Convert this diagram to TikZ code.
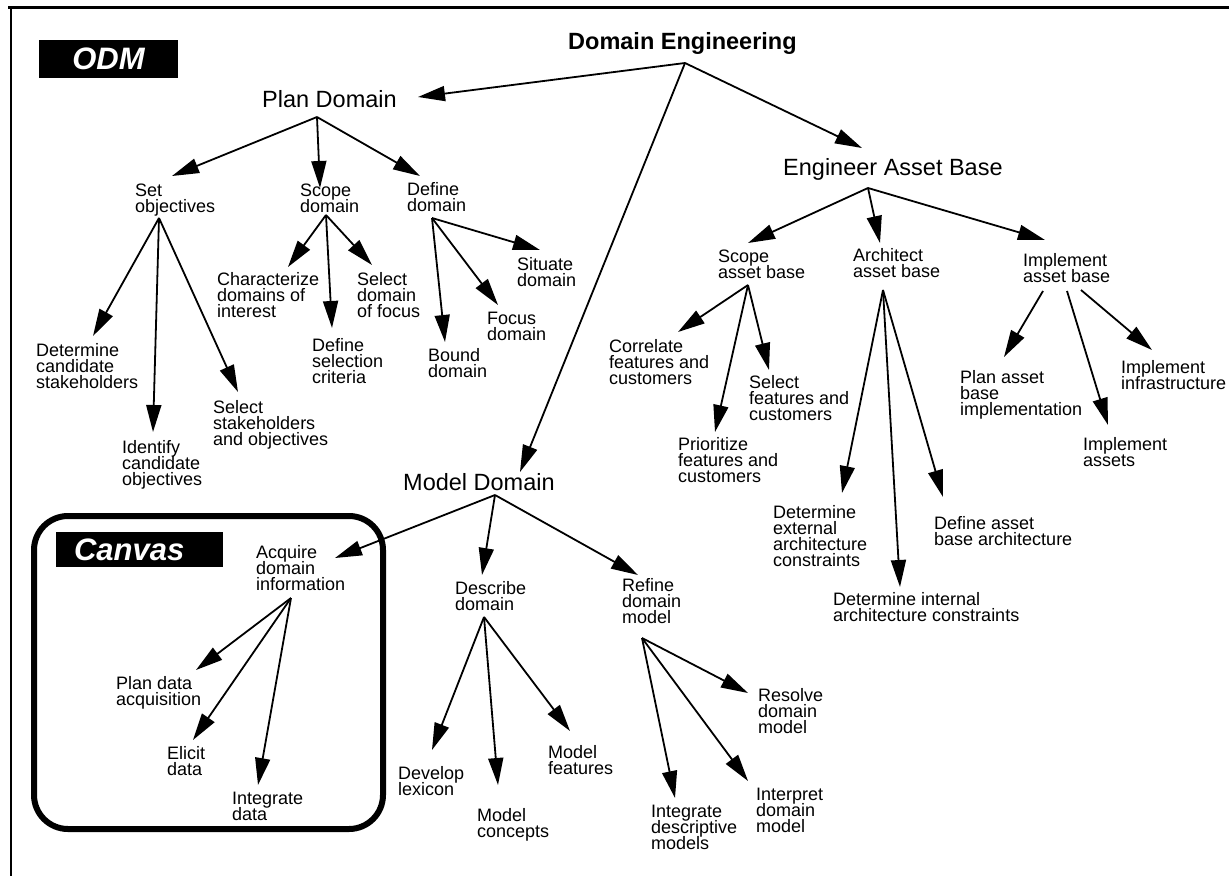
\documentclass[tikz,border=0pt]{standalone}
\usepackage{fontspec}
\setmainfont{Liberation Sans}
\usetikzlibrary{arrows.meta}
\begin{document}
\begin{tikzpicture}[x=1pt,y=-1pt,
  lbl/.style={font={\fontsize{18}{16.2}\selectfont\lineskiplimit=-30pt}, align=left, anchor=north west, inner sep=0pt},
  big/.style={font=\fontsize{23.5}{26}\selectfont, anchor=base west, inner sep=0pt},
  arr/.style={line width=1.8pt, -{Triangle[length=27pt,width=15pt]}},
  tag/.style={fill=black, text=white, inner sep=0pt, font=\fontsize{31}{34}\selectfont\bfseries\itshape},
]
\useasboundingbox (0,0) rectangle (1229,876);
\fill[white] (0,0) rectangle (1229,876);
% frame
\draw[line width=3pt] (8,7.5) -- (1229,7.5);
\draw[line width=2pt] (11,6) -- (11,876);
% tags
\node[tag, minimum width=139pt, minimum height=38pt] (odm) at (108.5,59) {ODM};
\draw[line width=6pt, rounded corners=34pt] (34,516) rectangle (383,829);
\node[tag, minimum height=35pt, inner xsep=18pt, text width=131pt, align=left] (canvas) at (139.5,549.5) {Canvas};

% main nodes
\node[big, font=\fontsize{23.5}{26}\selectfont\bfseries] (de) at (568,49) {Domain Engineering};
\node[big] (pd) at (262,107) {Plan Domain};
\node[big] (md) at (403,490) {Model Domain};
\node[big] (eab) at (783,175) {Engineer Asset Base};

% Plan Domain subtree
\node[lbl] (so) at (135,184) {Set\\objectives};
\node[lbl] (sd) at (300,184) {Scope\\domain};
\node[lbl] (dd) at (407,182) {Define\\domain};
\node[lbl] (cdi) at (217,272) {Characterize\\domains of\\interest};
\node[lbl] (sdf) at (357,272) {Select\\domain\\of focus};
\node[lbl] (dsc) at (312,338) {Define\\selection\\criteria};
\node[lbl] (dcs) at (36,343) {Determine\\candidate\\stakeholders};
\node[lbl] (ico) at (122,440) {Identify\\candidate\\objectives};
\node[lbl] (sso) at (213,400) {Select\\stakeholders\\and objectives};
\node[lbl] (sit) at (517,257) {Situate\\domain};
\node[lbl] (foc) at (487,312) {Focus\\domain};
\node[lbl] (bnd) at (428,348) {Bound\\domain};

% Engineer Asset Base subtree
\node[lbl] (sab) at (718,250) {Scope\\asset base};
\node[lbl] (aab) at (853,248) {Architect\\asset base};
\node[lbl] (iab) at (1023,253) {Implement\\asset base};
\node[lbl] (cor) at (609,339) {Correlate\\features and\\customers};
\node[lbl] (sfc) at (749,375) {Select\\features and\\customers};
\node[lbl] (pri) at (678,437) {Prioritize\\features and\\customers};
\node[lbl] (dea) at (773,505) {Determine\\external\\architecture\\constraints};
\node[lbl] (dab) at (934,516) {Define asset\\base architecture};
\node[lbl] (dia) at (833,592) {Determine internal\\architecture constraints};
\node[lbl] (pab) at (960,370) {Plan asset\\base\\implementation};
\node[lbl] (ia) at (1083,437) {Implement\\assets};
\node[lbl] (ii) at (1121,360) {Implement\\infrastructure};

% Model Domain subtree
\node[lbl] (adi) at (256,545) {Acquire\\domain\\information};
\node[lbl] (dsd) at (455,581) {Describe\\domain};
\node[lbl] (rdm) at (622,578) {Refine\\domain\\model};
\node[lbl] (pda) at (116,676) {Plan data\\acquisition};
\node[lbl] (eli) at (167,746) {Elicit\\data};
\node[lbl] (itd) at (232,792) {Integrate\\data};
\node[lbl] (dlx) at (398,766) {Develop\\lexicon};
\node[lbl] (mc) at (477,808) {Model\\concepts};
\node[lbl] (mf) at (548,745) {Model\\features};
\node[lbl] (res) at (758,688) {Resolve\\domain\\model};
\node[lbl] (int) at (756,788) {Interpret\\domain\\model};
\node[lbl] (idm) at (651,805) {Integrate\\descriptive\\models};

% connector end points
\coordinate (de-o) at (685,63);
\coordinate (pd-i) at (418,97);
\coordinate (md-i) at (520,472);
\coordinate (eab-i) at (862,148);
\coordinate (pd-o) at (317,117);
\coordinate (so-i) at (172,176);
\coordinate (sd-i) at (320,188);
\coordinate (dd-i) at (420,176);
\coordinate (so-o) at (159,218);
\coordinate (dcs-i) at (93,336);
\coordinate (ico-i) at (153,432);
\coordinate (sso-i) at (238,392);
\coordinate (sd-o) at (326,215);
\coordinate (cdi-i) at (288,267);
\coordinate (dsc-i) at (332,328);
\coordinate (sdf-i) at (372,265);
\coordinate (dd-o) at (432,218);
\coordinate (sit-i) at (540,250);
\coordinate (foc-i) at (498,305);
\coordinate (bnd-i) at (445,342);
\coordinate (eab-o) at (868,188);
\coordinate (sab-i) at (748,243);
\coordinate (aab-i) at (880,243);
\coordinate (iab-i) at (1045,240);
\coordinate (sab-o) at (748,285);
\coordinate (cor-i) at (678,332);
\coordinate (pri-i) at (715,432);
\coordinate (sfc-i) at (769,370);
\coordinate (aab-o) at (883,290);
\coordinate (dea-i) at (842,493);
\coordinate (dia-i) at (900,587);
\coordinate (dab-i) at (943,497);
\coordinate (iab-o1) at (1043,291);
\coordinate (iab-o2) at (1067,291);
\coordinate (iab-o3) at (1081,290);
\coordinate (pab-i) at (1004,357);
\coordinate (ia-i) at (1108,425);
\coordinate (ii-i) at (1152,350);
\coordinate (md-o) at (495,495);
\coordinate (adi-i) at (335,558);
\coordinate (dsd-i) at (482,575);
\coordinate (rdm-i) at (638,575);
\coordinate (adi-o) at (291,598);
\coordinate (pda-i) at (196,670);
\coordinate (eli-i) at (193,740);
\coordinate (itd-i) at (258,785);
\coordinate (dsd-o) at (484,617);
\coordinate (dlx-i) at (432,750);
\coordinate (mc-i) at (498,785);
\coordinate (mf-i) at (570,731);
\coordinate (rdm-o) at (642,638);
\coordinate (res-i) at (748,693);
\coordinate (int-i) at (748,781);
\coordinate (idm-i) at (675,798);

\foreach \a/\b in {de-o/pd-i, de-o/md-i, de-o/eab-i,
  pd-o/so-i, pd-o/sd-i, pd-o/dd-i,
  so-o/dcs-i, so-o/ico-i, so-o/sso-i,
  sd-o/cdi-i, sd-o/dsc-i, sd-o/sdf-i,
  dd-o/sit-i, dd-o/foc-i, dd-o/bnd-i,
  eab-o/sab-i, eab-o/aab-i, eab-o/iab-i,
  sab-o/cor-i, sab-o/pri-i, sab-o/sfc-i,
  aab-o/dea-i, aab-o/dia-i, aab-o/dab-i,
  iab-o1/pab-i, iab-o2/ia-i, iab-o3/ii-i,
  md-o/adi-i, md-o/dsd-i, md-o/rdm-i,
  adi-o/pda-i, adi-o/eli-i, adi-o/itd-i,
  dsd-o/dlx-i, dsd-o/mc-i, dsd-o/mf-i,
  rdm-o/res-i, rdm-o/int-i, rdm-o/idm-i}
  \draw[arr] (\a) -- (\b);
\end{tikzpicture}
\end{document}
